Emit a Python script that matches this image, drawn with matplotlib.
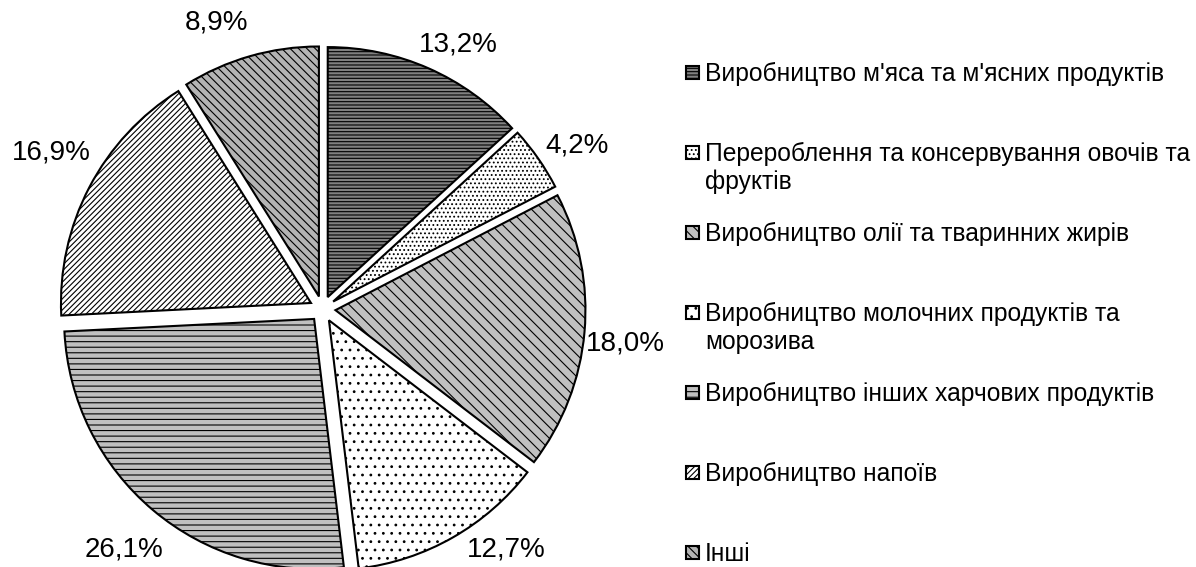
import numpy as np
import matplotlib
matplotlib.use("Agg")
import matplotlib.pyplot as plt
import matplotlib.patches as mpatches

plt.rcParams['font.family'] = ['Liberation Sans', 'DejaVu Sans']
plt.rcParams['hatch.linewidth'] = 0.8

categories = [
    "Виробництво м'яса та м'ясних продуктів",
    "Перероблення та консервування овочів та\nфруктів",
    "Виробництво олії та тваринних жирів",
    "Виробництво молочних продуктів та\nморозива",
    "Виробництво інших харчових продуктів",
    "Виробництво напоїв",
    "Інші",
]
shares = [13.2, 4.2, 18.0, 12.7, 26.1, 16.9, 8.9]

faces = ['#808080', 'white', '#c0c0c0', 'white', '#c0c0c0', 'white', '#b4b4b4']
hatches = ['-----', '....', '\\\\\\', '..', '---', '//////', '\\\\\\\\']

# label placement: distance from pie centre and nudge off the wedge middle (deg)
label_r = [1.19, 1.21, 1.22, 1.209, 1.245, 1.253, 1.22]
label_nudge = [-3.5, -2.3, -1.4, 7.7, 0.6, -2.5, 4.3]

W, H = 1196, 567
fig = plt.figure(figsize=(W / 100, H / 100), dpi=100)
ax = fig.add_axes([0, 0, 1, 1])

# pie centre at pixel (322, 309), radius 250 px
R = 250.0
cx, cy = 322.5, 309.0

wedges, texts = ax.pie(
    shares, startangle=90, counterclock=False,
    explode=[0.052] * len(shares),
    colors=faces,
    wedgeprops=dict(edgecolor='black', linewidth=1.5),
)
for w, h in zip(wedges, hatches):
    w.set_hatch(h)

for w, v, r, d in zip(wedges, shares, label_r, label_nudge):
    ang = np.deg2rad((w.theta1 + w.theta2) / 2 + d)
    ax.text(r * np.cos(ang), r * np.sin(ang), f"{v:.1f}%".replace('.', ','),
            ha='center', va='center', fontsize=20, color='black')

ax.set_aspect('auto')
ax.set_xlim(-cx / R, (W - cx) / R)
ax.set_ylim(-(H - cy) / R, cy / R)
ax.axis('off')

# legend drawn by hand so the rows keep an even spacing
row_y0, row_step = 73, 80
for i, (lab, fc, h) in enumerate(zip(categories, faces, hatches)):
    y = row_y0 + i * row_step
    rect = mpatches.Rectangle((686 / W, 1 - (y + 6) / H), 13 / W, 13 / H,
                              transform=fig.transFigure, facecolor=fc,
                              edgecolor='black', linewidth=1.5, hatch=h)
    fig.patches.append(rect)
    fig.text(705 / W, 1 - (y - 11) / H, lab, fontsize=17.7, va='top',
             ha='left', linespacing=1.2)

fig.savefig('out.png', dpi=100)
